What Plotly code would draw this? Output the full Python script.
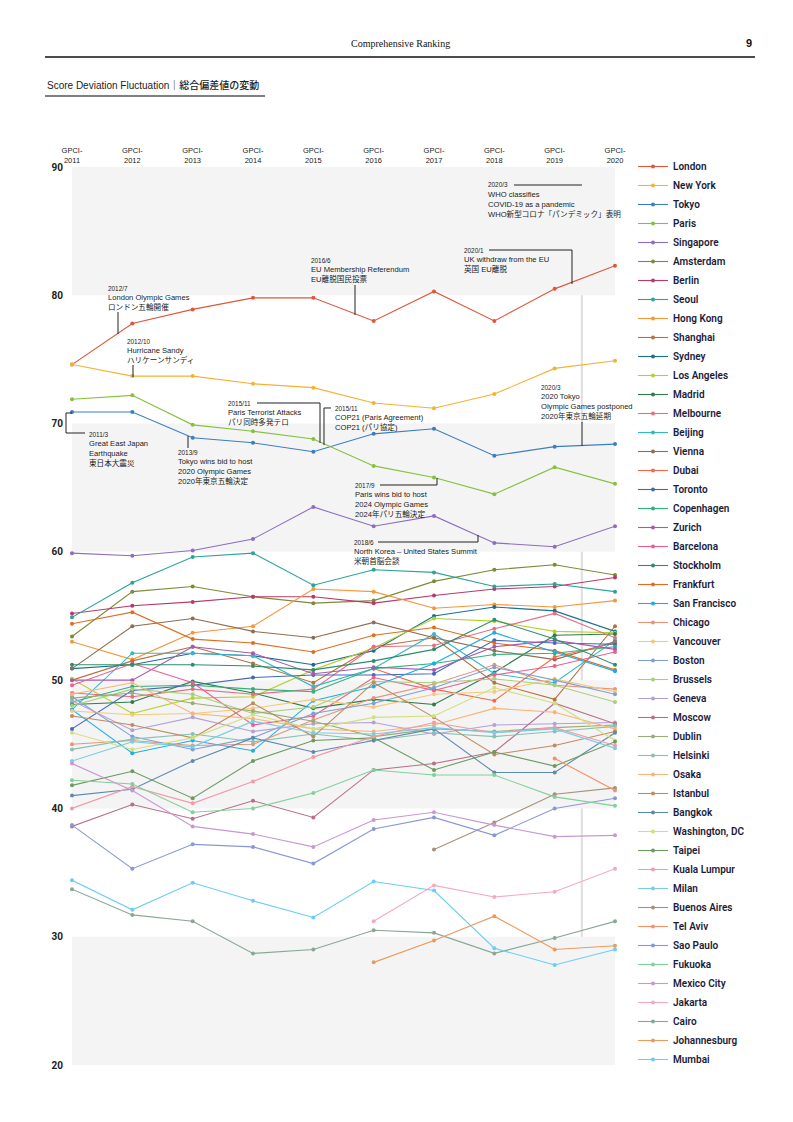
import plotly.graph_objects as go

years = [2011, 2012, 2013, 2014, 2015, 2016, 2017, 2018, 2019, 2020]
year_labels = ["GPCI-<br>%d" % y for y in years]

cities = ["London", "New York", "Tokyo", "Paris", "Singapore", "Amsterdam", "Berlin", "Seoul",
          "Hong Kong", "Shanghai", "Sydney", "Los Angeles", "Madrid", "Melbourne", "Beijing",
          "Vienna", "Dubai", "Toronto", "Copenhagen", "Zurich", "Barcelona", "Stockholm",
          "Frankfurt", "San Francisco", "Chicago", "Vancouver", "Boston", "Brussels", "Geneva",
          "Moscow", "Dublin", "Helsinki", "Osaka", "Istanbul", "Bangkok", "Washington, DC",
          "Taipei", "Kuala Lumpur", "Milan", "Buenos Aires", "Tel Aviv", "Sao Paulo", "Fukuoka",
          "Mexico City", "Jakarta", "Cairo", "Johannesburg", "Mumbai"]

N = None
london = [74.6, 77.8, 78.9, 79.8, 79.8, 78.0, 80.3, 78.0, 80.5, 82.3]
new_york = [74.6, 73.7, 73.7, 73.1, 72.8, 71.6, 71.2, 72.3, 74.3, 74.9]
tokyo = [70.9, 70.9, 68.9, 68.5, 67.8, 69.2, 69.6, 67.5, 68.2, 68.4]
paris = [71.9, 72.2, 69.9, 69.4, 68.8, 66.7, 65.8, 64.5, 66.6, 65.3]
singapore = [59.9, 59.7, 60.1, 61.0, 63.5, 62.0, 62.8, 60.7, 60.4, 62.0]
amsterdam = [53.4, 56.9, 57.3, 56.5, 56.0, 56.2, 57.7, 58.6, 59.0, 58.2]
berlin = [55.2, 55.8, 56.1, 56.5, 56.5, 56.0, 56.6, 57.1, 57.3, 58.0]
seoul = [54.9, 57.6, 59.6, 59.9, 57.4, 58.6, 58.4, 57.3, 57.5, 56.9]
hong_kong = [53.0, 51.6, 53.7, 54.2, 57.1, 56.9, 55.6, 55.9, 55.7, 56.2]
shanghai = [50.0, 51.5, 52.6, 51.3, 49.8, 52.6, 53.3, 49.8, 48.5, 54.2]
sydney = [50.9, 51.2, 52.1, 51.9, 51.2, 52.3, 55.0, 55.7, 55.4, 53.8]
los_angeles = [50.1, 47.4, 48.6, 48.7, 50.8, 52.5, 54.8, 54.6, 53.8, 53.7]
madrid = [48.1, 48.3, 49.9, 49.0, 47.8, 48.5, 48.1, 50.6, 53.5, 53.6]
melbourne = [49.0, 48.7, 49.3, 48.9, 49.3, 52.6, 52.7, 54.0, 55.2, 53.3]
beijing = [47.7, 52.1, 52.1, 51.9, 49.5, 50.9, 53.6, 50.5, 49.8, 53.1]
vienna = [50.9, 54.2, 54.8, 53.8, 53.3, 54.5, 53.3, 52.3, 51.6, 53.0]
dubai = [N, N, N, N, N, 50.9, 49.3, 48.4, 51.8, 52.9]
toronto = [46.2, 49.2, 49.6, 50.2, 50.4, 50.4, 50.5, 53.1, 52.9, 52.8]
copenhagen = [48.3, 49.5, 49.6, 49.3, 49.1, 50.9, 51.3, 52.0, 52.1, 52.6]
zurich = [50.0, 50.0, 52.6, 52.1, 50.5, 51.0, 50.8, 52.6, 53.1, 52.4]
barcelona = [49.6, 51.3, 49.8, 46.5, 47.2, 50.2, 49.2, 50.4, 51.1, 52.2]
stockholm = [51.2, 51.2, 51.2, 51.1, 50.8, 51.5, 52.4, 54.7, 53.2, 51.2]
frankfurt = [54.4, 55.3, 53.2, 52.9, 52.2, 53.5, 54.1, 52.9, 52.3, 50.8]
san_francisco = [47.7, 44.3, 45.3, 44.5, 48.4, 49.5, 51.3, 53.7, 52.2, 50.7]
chicago = [45.0, 45.3, 44.9, 45.0, 46.9, 48.6, 49.7, 51.2, 49.6, 49.3]
vancouver = [47.6, 47.3, 47.4, 47.8, 48.5, 47.9, 48.9, 49.1, 50.1, 49.1]
boston = [48.7, 45.6, 44.6, 45.5, 47.4, 48.2, 49.4, 51.0, 50.0, 48.9]
brussels = [48.0, 49.3, 48.9, 47.4, 47.9, 49.9, 49.8, 50.1, 49.6, 48.3]
geneva = [48.4, 46.1, 47.1, 46.0, 46.6, 46.7, 45.8, 46.5, 46.6, 46.7]
moscow = [38.6, 40.3, 39.2, 40.6, 39.3, 43.0, 43.5, 44.4, 48.2, 46.6]
dublin = [48.6, 49.0, 48.2, 47.6, 46.8, 45.6, 46.2, 46.0, 46.3, 46.5]
helsinki = [44.6, 45.4, 45.8, 45.2, 45.8, 45.3, 45.9, 45.6, 46.0, 46.4]
osaka = [48.9, 49.8, 47.4, 47.0, 46.2, 46.0, 46.5, 47.8, 47.5, 46.2]
istanbul = [47.2, 46.5, 45.5, 48.2, 45.6, 49.8, 47.1, 44.2, 44.9, 46.0]
bangkok = [41.0, 41.5, 43.7, 45.5, 44.4, 45.3, 46.2, 42.8, 42.8, 45.9]
washington_dc = [45.9, 44.6, 45.5, 47.3, 46.2, 47.1, 47.2, 49.4, 48.2, 45.3]
taipei = [41.8, 42.9, 40.8, 43.7, 45.3, 45.5, 43.0, 44.4, 43.3, 45.2]
kuala_lumpur = [40.0, 41.7, 40.4, 42.1, 44.0, 45.6, 46.7, 45.9, 46.3, 44.9]
milan = [43.7, 45.2, 44.8, 46.8, 45.9, 45.8, 46.3, 45.9, 46.2, 44.7]
buenos_aires = [N, N, N, N, N, N, 36.8, 38.9, 41.1, 41.6]
tel_aviv = [N, N, N, N, N, N, N, N, 43.9, 41.4]
sao_paulo = [38.7, 35.3, 37.2, 37.0, 35.7, 38.4, 39.3, 37.9, 40.0, 40.8]
fukuoka = [42.2, 41.9, 39.7, 40.0, 41.2, 43.0, 42.6, 42.6, 40.9, 40.2]
mexico_city = [43.5, 41.4, 38.6, 38.0, 37.0, 39.1, 39.7, 38.7, 37.8, 37.9]
jakarta = [N, N, N, N, N, 31.2, 34.0, 33.1, 33.5, 35.3]
cairo = [33.7, 31.7, 31.2, 28.7, 29.0, 30.5, 30.3, 28.7, 29.9, 31.2]
johannesburg = [N, N, N, N, N, 28.0, 29.7, 31.6, 29.0, 29.3]
mumbai = [34.4, 32.1, 34.2, 32.8, 31.5, 34.3, 33.6, 29.1, 27.8, 29.0]

series = [london, new_york, tokyo, paris, singapore, amsterdam, berlin, seoul, hong_kong,
          shanghai, sydney, los_angeles, madrid, melbourne, beijing, vienna, dubai, toronto,
          copenhagen, zurich, barcelona, stockholm, frankfurt, san_francisco, chicago,
          vancouver, boston, brussels, geneva, moscow, dublin, helsinki, osaka, istanbul,
          bangkok, washington_dc, taipei, kuala_lumpur, milan, buenos_aires, tel_aviv,
          sao_paulo, fukuoka, mexico_city, jakarta, cairo, johannesburg, mumbai]

colors = ["#E0563B", "#F5B132", "#3B7EC2", "#86C040", "#8E6CC0", "#7E8A3A", "#B8386A",
          "#2BA399", "#F4963A", "#B8703E", "#1A7090", "#B3D12E", "#2E7D4A", "#E76F84",
          "#2FB9C9", "#8E6E52", "#F26A4B", "#4468B8", "#2FB37A", "#A45AAE", "#EC5F8C",
          "#2E8E6A", "#DE6E22", "#1AAEE8", "#E8947A", "#F7C87C", "#7EA0D8", "#A8D07A",
          "#B4A0D4", "#B87088", "#9AAA78", "#88C0B4", "#F7B478", "#C08A62", "#5F8AB0",
          "#D0E080", "#6C9A62", "#F09AAA", "#7ACCE4", "#A8907A", "#F4926A", "#8898D4",
          "#80D09A", "#C898D0", "#F4A8C4", "#88A894", "#EC9A5A", "#6CCCF4"]

# geometry (pixels of the page)
W, H = 793, 1122
PL, PR, PT, PB = 72, 615, 167, 1065


def px(x):
    return (x - PL) / (PR - PL)


def py(y):
    return (PB - y) / (PB - PT)


fig = go.Figure()
for name, vals, col in zip(cities, series, colors):
    fig.add_trace(go.Scatter(
        x=years, y=vals, name=name, mode="lines+markers",
        line=dict(color=col, width=1.1),
        marker=dict(color=col, size=4),
        cliponaxis=False, connectgaps=False))

shapes = []
# grey bands
for lo in (20, 40, 60, 80):
    shapes.append(dict(type="rect", xref="x", yref="y", x0=2011, x1=2020, y0=lo, y1=lo + 10,
                       fillcolor="#f4f4f4", line=dict(width=0), layer="below"))
# vertical marker (2020/3)
shapes.append(dict(type="line", xref="x", yref="paper", x0=2019.45, x1=2019.45, y0=0, y1=1,
                   line=dict(color="#dedede", width=2), layer="below"))

TXT = "#1a1a1a"
FAM = "Liberation Sans, Noto Sans CJK JP, sans-serif"
anns = []


def note(x, y, text, size=7.6, bold=False):
    anns.append(dict(x=px(x), y=py(y), xref="paper", yref="paper", text=text, showarrow=False,
                     xanchor="left", yanchor="middle", borderpad=0,
                     font=dict(size=size, color=TXT, family=FAM,
                               weight="bold" if bold else "normal")))


def block(x, y0, lines, step=9.6):
    note(x, y0, lines[0], size=6.4)
    for i, t in enumerate(lines[1:]):
        note(x, y0 + step * (i + 1), t)


def lead(points):
    d = "M %f %f" % (px(points[0][0]), py(points[0][1]))
    for (a, b) in points[1:]:
        d += " L %f %f" % (px(a), py(b))
    shapes.append(dict(type="path", xref="paper", yref="paper", path=d,
                       line=dict(color="#222", width=1)))


block(107, 288, ["2012/7", "London Olympic Games", "ロンドン五輪開催"])
lead([(118, 312), (118, 334)])
block(126, 341, ["2012/10", "Hurricane Sandy", "ハリケーンサンディ"])
lead([(133, 365), (133, 377)])
block(310, 260, ["2016/6", "EU Membership Referendum", "EU離脱国民投票"])
lead([(355, 285), (355, 315)])
block(463, 250, ["2020/1", "UK withdraw from the EU", "英国 EU離脱"])
lead([(489, 250), (572, 250), (572, 284)])
block(487, 185, ["2020/3", "WHO classifies", "COVID-19 as a pandemic", "WHO新型コロナ「パンデミック」表明"])
lead([(514, 185), (582, 185)])
block(88, 434, ["2011/3", "Great East Japan", "Earthquake", "東日本大震災"])
lead([(72, 413), (66, 413), (66, 433), (85, 433)])
block(177, 452, ["2013/9", "Tokyo wins bid to host", "2020 Olympic Games", "2020年東京五輪決定"])
lead([(188, 436), (188, 448)])
block(227, 403, ["2015/11", "Paris Terrorist Attacks", "パリ同時多発テロ"])
lead([(257, 403), (320, 403), (320, 443)])
block(334, 408, ["2015/11", "COP21 (Paris Agreement)", "COP21 (パリ協定)"])
lead([(331, 408), (324, 408), (324, 445)])
block(354, 485, ["2017/9", "Paris wins bid to host", "2024 Olympic Games", "2024年パリ五輪決定"])
lead([(380, 485), (437, 485), (437, 478)])
block(353, 542, ["2018/6", "North Korea – United States Summit", "米朝首脳会談"])
lead([(378, 542), (478, 542), (478, 535)])
block(540, 387, ["2020/3", "2020 Tokyo", "Olympic Games postponed", "2020年東京五輪延期"])
lead([(582, 422), (582, 446)])

# page header
anns.append(dict(x=px(400), y=py(43), xref="paper", yref="paper", text="Comprehensive Ranking",
                 showarrow=False, xanchor="center", yanchor="middle",
                 font=dict(size=10, color="#111", family="Liberation Serif, serif")))
anns.append(dict(x=px(754), y=py(43), xref="paper", yref="paper", text="9",
                 showarrow=False, xanchor="right", yanchor="middle",
                 font=dict(size=11, color="#111", family="Liberation Sans, sans-serif", weight="bold")))
anns.append(dict(x=px(45), y=py(85), xref="paper", yref="paper",
                 text="Score Deviation Fluctuation｜総合偏差値の変動",
                 showarrow=False, xanchor="left", yanchor="middle",
                 font=dict(size=10, color="#222", family="Liberation Sans, Noto Sans CJK JP, sans-serif",
                           weight=500)))
shapes.append(dict(type="line", xref="paper", yref="paper", x0=px(45), x1=px(755), y0=py(57), y1=py(57),
                   line=dict(color="#111", width=1.3)))
shapes.append(dict(type="line", xref="paper", yref="paper", x0=px(45), x1=px(265), y0=py(96), y1=py(96),
                   line=dict(color="#555", width=1.6)))

fig.update_layout(
    width=W, height=H, autosize=False,
    margin=dict(l=PL, r=W - PR, t=PT, b=H - PB, pad=0),
    paper_bgcolor="white", plot_bgcolor="white",
    shapes=shapes, annotations=anns,
    showlegend=True,
    legend=dict(x=px(633), y=py(152), xanchor="left", yanchor="top",
                font=dict(size=10, color="#1c1c3a", family="Roboto, sans-serif", weight=600),
                tracegroupgap=0, itemwidth=30, bgcolor="rgba(0,0,0,0)", maxheight=1000),
    font=dict(family="Liberation Sans, sans-serif"),
)
fig.update_xaxes(range=[2011, 2020], side="top", tickvals=years, ticktext=year_labels,
                 showgrid=False, zeroline=False, showline=False, ticks="",
                 tickfont=dict(size=7.5, color="#222", family="Liberation Sans, sans-serif"),
                 ticklabelstandoff=2)
fig.update_yaxes(range=[20, 90], tickvals=[20, 30, 40, 50, 60, 70, 80, 90],
                 showgrid=False, zeroline=False, showline=False, ticks="",
                 tickfont=dict(size=10, color="#222", family="Roboto, sans-serif", weight="bold"),
                 ticklabelstandoff=8)

fig.write_html("out.html", config={"displayModeBar": False},
               post_script="document.body.style.margin='0';")
